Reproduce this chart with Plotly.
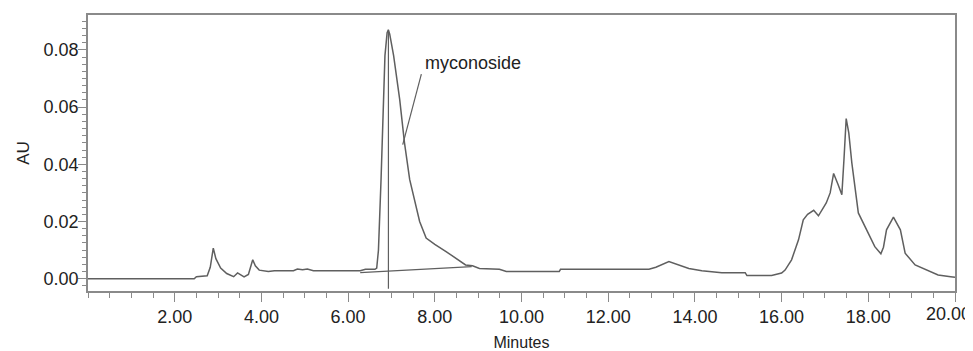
import plotly.graph_objects as go

# Chromatogram trace (retention time in minutes, absorbance in AU)
minutes = [0.0, 2.45, 2.5, 2.75, 2.82, 2.89, 2.95, 3.06, 3.2, 3.36, 3.45, 3.6, 3.7, 3.76, 3.8, 3.86,
           3.95, 4.16, 4.3, 4.74, 4.83, 4.95, 5.06, 5.2, 6.28, 6.4, 6.62, 6.66, 6.70, 6.76, 6.80, 6.85,
           6.90, 6.93, 6.96, 7.05, 7.19, 7.30, 7.42, 7.54, 7.65, 7.8, 8.0, 8.26, 8.5, 8.71, 8.87, 9.03,
           9.49, 9.65, 10.87, 10.9, 12.94, 13.1, 13.4, 13.6, 13.86, 14.16, 14.62, 15.16, 15.2, 15.77,
           16.0, 16.08, 16.23, 16.39, 16.5, 16.6, 16.74, 16.85, 16.95, 17.03, 17.12, 17.2, 17.3, 17.39,
           17.44, 17.49, 17.55, 17.62, 17.77, 17.9, 18.0, 18.15, 18.29, 18.35, 18.42, 18.58, 18.74,
           18.85, 19.08, 19.38, 19.61, 19.9, 20.0]
au = [0.0000, 0.0000, 0.0007, 0.0010, 0.0040, 0.0107, 0.0070, 0.0037, 0.0018, 0.0007, 0.0020, 0.0006,
      0.0015, 0.0045, 0.0066, 0.0045, 0.0030, 0.0025, 0.0028, 0.0028, 0.0034, 0.0031, 0.0034, 0.0028,
      0.0028, 0.0033, 0.0033, 0.0037, 0.0100, 0.0347, 0.0550, 0.0780, 0.0860, 0.0870, 0.0855, 0.0780,
      0.0627, 0.0476, 0.0347, 0.0270, 0.0200, 0.0142, 0.0120, 0.0095, 0.0070, 0.0048, 0.0045, 0.0036,
      0.0033, 0.0025, 0.0025, 0.0033, 0.0033, 0.0040, 0.0060, 0.0050, 0.0036, 0.0028, 0.0021, 0.0021,
      0.0011, 0.0011, 0.0020, 0.0030, 0.0066, 0.0136, 0.0206, 0.0225, 0.0239, 0.0220, 0.0245, 0.0265,
      0.0300, 0.0368, 0.0330, 0.0294, 0.0420, 0.0560, 0.0510, 0.0405, 0.0230, 0.0190, 0.0160, 0.0112,
      0.0087, 0.0110, 0.0171, 0.0215, 0.0171, 0.0089, 0.0048, 0.0028, 0.0013, 0.0007, 0.0005]

# Peak marker (retention time drop line) and integration baseline
marker_x = [6.93, 6.93]
marker_y = [-0.0035, 0.0870]
baseline_x = [6.28, 8.85]
baseline_y = [0.0021, 0.0042]

# Label and its leader line
label_text = "myconoside"
leader_x = [7.69, 7.26]
leader_y = [0.0715, 0.0469]
label_pos = (7.72, 0.0755)

x_tickvals = [2, 4, 6, 8, 10, 12, 14, 16, 18, 20]
x_ticktext = ["2.00", "4.00", "6.00", "8.00", "10.00", "12.00", "14.00", "16.00", "18.00", "20.00"]
y_tickvals = [0.00, 0.02, 0.04, 0.06, 0.08]
y_ticktext = ["0.00", "0.02", "0.04", "0.06", "0.08"]

line_color = "#5f5f5f"
axis_color = "#8a8a8a"
text_color = "#222222"
font_family = "Liberation Sans, Arial, sans-serif"

# the last x label sits at the right edge; it is drawn as an annotation nudged inward
shown_ticktext = x_ticktext[:-1] + [""]

fig = go.Figure()
fig.add_trace(go.Scatter(x=minutes, y=au, mode="lines",
                         line=dict(color=line_color, width=1.5), showlegend=False, hoverinfo="skip"))
fig.add_trace(go.Scatter(x=baseline_x, y=baseline_y, mode="lines",
                         line=dict(color=line_color, width=1.2), showlegend=False, hoverinfo="skip"))
fig.add_trace(go.Scatter(x=marker_x, y=marker_y, mode="lines", cliponaxis=False,
                         line=dict(color=line_color, width=1.2), showlegend=False, hoverinfo="skip"))
fig.add_trace(go.Scatter(x=leader_x, y=leader_y, mode="lines",
                         line=dict(color=line_color, width=1.2), showlegend=False, hoverinfo="skip"))

fig.add_annotation(x=label_pos[0], y=label_pos[1], text=label_text, showarrow=False,
                   xanchor="left", yanchor="middle",
                   font=dict(family=font_family, size=18, color=text_color))
fig.add_annotation(x=x_tickvals[-1], y=0, xref="x", yref="paper", text=x_ticktext[-1],
                   showarrow=False, xanchor="center", yanchor="top", xshift=-7, yshift=-11,
                   font=dict(family=font_family, size=18, color=text_color))

fig.update_layout(
    width=965, height=343,
    margin=dict(l=80, r=18, t=7, b=60, autoexpand=False),
    paper_bgcolor="white", plot_bgcolor="white",
    font=dict(family=font_family, size=18, color=text_color),
    xaxis=dict(range=[0, 20], tickvals=x_tickvals, ticktext=shown_ticktext, automargin=False,
               ticklabelstandoff=0,
               showgrid=False, zeroline=False, showline=True, linecolor=axis_color, linewidth=1.5,
               mirror=True, ticks="outside", ticklen=9, tickwidth=1.2, tickcolor=axis_color,
               minor=dict(dtick=0.5, tick0=0, ticks="outside", ticklen=5, tickwidth=1.2,
                          tickcolor=axis_color, showgrid=False),
               tickfont=dict(size=18, color=text_color),
               title=dict(text="Minutes", font=dict(size=16, color=text_color), standoff=11)),
    yaxis=dict(range=[-0.0043, 0.0922], tickvals=y_tickvals, ticktext=y_ticktext, automargin=False,
               ticklabelstandoff=-4,
               showgrid=False, zeroline=False, showline=True, linecolor=axis_color, linewidth=1.5,
               mirror=True, ticks="outside", ticklen=8, tickwidth=1.2, tickcolor=axis_color,
               minor=dict(dtick=0.0025, tick0=0, ticks="outside", ticklen=4, tickwidth=1.2,
                          tickcolor=axis_color, showgrid=False),
               tickfont=dict(size=18, color=text_color),
               title=dict(text="AU", font=dict(size=17, color=text_color), standoff=10)),
)

fig.write_html("out.html")
